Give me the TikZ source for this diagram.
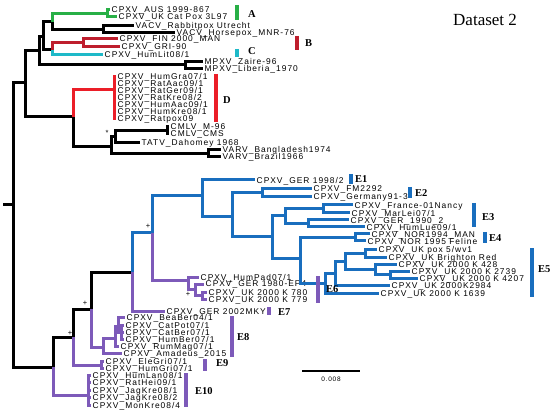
\documentclass[tikz,border=0pt]{standalone}
\usepackage{fontspec}
\newfontfamily\labfont[LetterSpace=12]{Liberation Sans}
\newfontfamily\serfont{Liberation Serif}
\definecolor{cgreen}{RGB}{40,175,70}
\definecolor{credb}{RGB}{190,30,45}
\definecolor{credd}{RGB}{235,30,40}
\definecolor{ccyan}{RGB}{30,185,200}
\definecolor{cblue}{RGB}{25,110,190}
\definecolor{cpurple}{RGB}{125,90,185}
\begin{document}
\begin{tikzpicture}[x=1pt,y=-1pt,
  br/.style={line width=3pt},
  leaf/.style={anchor=west,inner xsep=1.5pt,inner ysep=0pt,text height=6pt,text depth=0pt,font=\labfont\fontsize{8.4}{9}\selectfont},
  bar/.style={line width=3.2pt},
  clab/.style={anchor=west,inner sep=0pt,font=\serfont\bfseries\fontsize{10.5}{11}\selectfont},
  mk/.style={inner sep=0pt,font=\labfont\fontsize{7.5}{7.5}\selectfont}]
\useasboundingbox (0,0) rectangle (550,412);
% ---------------- internal nodes
\coordinate (r0) at (3,205);
\coordinate (n13) at (13,205);
\coordinate (n25) at (25,83);
\coordinate (n39) at (39,51);
\coordinate (n43) at (43,37);
\coordinate (n52a) at (52,22);
\coordinate (gA) at (107,14);
\coordinate (nV) at (103,30);
\coordinate (n52b) at (52,50);
\coordinate (rB) at (83,43);
\coordinate (nM) at (185,65);
\coordinate (n73) at (73,117);
\coordinate (nD) at (114,90);
\coordinate (nCTV) at (111,147);
\coordinate (nCT) at (115,137);
\coordinate (nCM) at (167,131);
\coordinate (nVA) at (208,154);
\coordinate (n53) at (53,367);
\coordinate (n73b) at (73,337);
\coordinate (n91) at (91,309);
\coordinate (n132) at (132,272);
\coordinate (n152) at (152,233);
\coordinate (nB202) at (202,196);
\coordinate (nB232) at (232,217);
\coordinate (nFM) at (262,193);
\coordinate (nB272) at (272,237);
\coordinate (nE3) at (285,216);
\coordinate (nFr) at (323,209);
\coordinate (nGH) at (308,224);
\coordinate (nB300) at (300,258);
\coordinate (nE4) at (355,238);
\coordinate (nE5) at (325,283);
\coordinate (nEb) at (335,273);
\coordinate (nEa) at (345,261);
\coordinate (nPox) at (365,253);
\coordinate (n428) at (375,269);
\coordinate (n27) at (390,274);
\coordinate (nE6) at (188,280);
\coordinate (nE6b) at (195,289);
\coordinate (nE6c) at (202,295);
\coordinate (nE8a) at (103,347);
\coordinate (nE8b) at (115,338);
\coordinate (nE8c) at (118,326);
\coordinate (nE8d) at (121,332);
\coordinate (nE9) at (101,365);
\coordinate (nE10) at (88,395);
% ---------------- leaves
\node[leaf] (AUS) at (110,10) {CPXV\_AUS 1999-867};
\node[leaf] (UKC) at (117,17) {CPXV\_UK Cat Pox 3L97};
\node[leaf] (Rab) at (134,26) {VACV\_Rabbitpox Utrecht};
\node[leaf] (Hor) at (175,33) {VACV\_Horsepox\_MNR-76};
\node[leaf] (FIN) at (118,39) {CPXV\_FIN 2000\_MAN};
\node[leaf] (GRI) at (120,47) {CPXV\_GRI-90};
\node[leaf] (HLi) at (103,55) {CPXV\_HumLit08/1};
\node[leaf] (Zai) at (203,62) {MPXV\_Zaire-96};
\node[leaf] (Lib) at (203,69) {MPXV\_Liberia\_1970};
\node[leaf] (D1) at (116,77) {CPXV\_HumGra07/1};
\node[leaf] (D2) at (116,84) {CPXV\_RatAac09/1};
\node[leaf] (D3) at (116,91) {CPXV\_RatGer09/1};
\node[leaf] (D4) at (116,98) {CPXV\_RatKre08/2};
\node[leaf] (D5) at (116,105) {CPXV\_HumAac09/1};
\node[leaf] (D6) at (116,112) {CPXV\_HumKre08/1};
\node[leaf] (D7) at (116,119) {CPXV\_Ratpox09};
\node[leaf] (CM1) at (169,127) {CMLV\_M-96};
\node[leaf] (CM2) at (169,134) {CMLV\_CMS};
\node[leaf] (TAT) at (140,143) {TATV\_Dahomey 1968};
\node[leaf] (VB1) at (221,150) {VARV\_Bangladesh1974};
\node[leaf] (VB2) at (221,157) {VARV\_Brazil1966};
\node[leaf] (G98) at (255,180) {CPXV\_GER 1998/2};
\node[leaf] (FM) at (312,189) {CPXV\_FM2292};
\node[leaf] (G91) at (312,197) {CPXV\_Germany91-3};
\node[leaf] (Fra) at (353,205) {CPXV\_France-01Nancy};
\node[leaf] (Mar) at (350,213) {CPXV\_MarLei07/1};
\node[leaf] (G90) at (349,220) {CPXV\_GER\_1990\_2};
\node[leaf] (HLu) at (365,227) {CPXV\_HumLue09/1};
\node[leaf] (N94) at (370,234) {CPXV\_NOR1994\_MAN};
\node[leaf] (N95) at (366,241) {CPXV\_NOR 1995 Feline};
\node[leaf] (Pox) at (377,249) {CPXV\_UK pox 5/wv1};
\node[leaf] (Bri) at (387,257) {CPXV\_UK Brighton Red};
\node[leaf] (K428) at (397,264) {CPXV\_UK 2000 K 428};
\node[leaf] (K2739) at (410,271) {CPXV\_UK 2000 K 2739};
\node[leaf] (K4207) at (418,278) {CPXV\_UK 2000 K 4207};
\node[leaf] (K2984) at (390,285) {CPXV\_UK 2000K2984};
\node[leaf] (K1639) at (379,293) {CPXV\_UK 2000 K 1639};
\node[leaf] (HPa) at (199,277) {CPXV\_HumPad07/1};
\node[leaf] (G80) at (204,284) {CPXV\_GER 1980-EP4};
\node[leaf] (K780) at (207,292) {CPXV\_UK 2000 K 780};
\node[leaf] (K779) at (207,299) {CPXV\_UK 2000 K 779};
\node[leaf] (G02) at (165,311) {CPXV\_GER 2002MKY};
\node[leaf] (Bea) at (125,317) {CPXV\_BeaBer04/1};
\node[leaf] (CPo) at (124,325) {CPXV\_CatPot07/1};
\node[leaf] (CBe) at (124,332) {CPXV\_CatBer07/1};
\node[leaf] (HBe) at (124,339) {CPXV\_HumBer07/1};
\node[leaf] (Rum) at (119,346) {CPXV\_RumMag07/1};
\node[leaf] (Ama) at (122,353) {CPXV\_Amadeus\_2015};
\node[leaf] (Ele) at (104,361) {CPXV\_EleGri07/1};
\node[leaf] (HGr) at (104,368) {CPXV\_HumGri07/1};
\node[leaf] (T1) at (91,375) {CPXV\_HumLan08/1};
\node[leaf] (T2) at (91,382) {CPXV\_RatHei09/1};
\node[leaf] (T3) at (91,390) {CPXV\_JagKre08/1};
\node[leaf] (T4) at (91,397) {CPXV\_JagKre08/2};
\node[leaf] (T5) at (91,405) {CPXV\_MonKre08/4};
% ---------------- black branches
\begin{scope}[br,black]
\draw (r0) -- (n13);
\draw (n13) |- (n25); \draw (n13) |- (n53);
\draw (n25) |- (n39); \draw (n25) |- (n73);
\draw (n39) |- (n43); \draw (n39) |- (nM);
\draw (n43) |- (n52a); \draw (n43) |- (n52b);
\draw (n52a) |- (nV);
\draw (nV) |- (Rab.west); \draw (nV) |- (Hor.west);
\draw (nM) |- (Zai.west); \draw (nM) |- (Lib.west);
\draw (n73) |- (nCTV);
\draw (nCTV) |- (nCT); \draw (nCTV) |- (nVA);
\draw (nCT) |- (nCM); \draw (nCT) |- (TAT.west);
\draw (nCM) |- (CM1.west); \draw (nCM) |- (CM2.west);
\draw (nVA) |- (VB1.west); \draw (nVA) |- (VB2.west);
\draw (n53) |- (n73b);
\draw (n73b) |- (n91);
\draw (n91) |- (n132);
\end{scope}
% green
\begin{scope}[br,cgreen]
\draw (n52a) |- (gA);
\draw (gA) |- (AUS.west); \draw (gA) |- (UKC.west);
\end{scope}
% red B
\begin{scope}[br,credb]
\draw (n52b) |- (rB);
\draw (rB) |- (FIN.west); \draw (rB) |- (GRI.west);
\end{scope}
% cyan
\draw[br,ccyan] (n52b) |- (HLi.west);
% red D
\begin{scope}[br,credd]
\draw (n73) |- (nD);
\foreach \l in {D1,D2,D3,D4,D5,D6,D7} \draw (nD) |- (\l.west);
\end{scope}
% blue
\begin{scope}[br,cblue]
\draw (n132) |- (n152);
\draw (n152) |- (nB202);
\draw (nB202) |- (G98.west); \draw (nB202) |- (nB232);
\draw (nB232) |- (nFM); \draw (nB232) |- (nB272);
\draw (nFM) |- (FM.west); \draw (nFM) |- (G91.west);
\draw (nB272) |- (nE3); \draw (nB272) |- (nB300);
\draw (nE3) |- (nFr); \draw (nE3) |- (nGH);
\draw (nFr) |- (Fra.west); \draw (nFr) |- (Mar.west);
\draw (nGH) |- (G90.west); \draw (nGH) |- (HLu.west);
\draw (nB300) |- (nE4); \draw (nB300) |- (nE5);
\draw (nE4) |- (N94.west); \draw (nE4) |- (N95.west);
\draw (nE5) |- (nEb); \draw (nE5) |- (K1639.west);
\draw (nEb) |- (nEa); \draw (nEb) |- (K2984.west);
\draw (nEa) |- (nPox); \draw (nEa) |- (n428);
\draw (nPox) |- (Pox.west); \draw (nPox) |- (Bri.west);
\draw (n428) |- (K428.west); \draw (n428) |- (n27);
\draw (n27) |- (K2739.west); \draw (n27) |- (K4207.west);
\end{scope}
% purple
\begin{scope}[br,cpurple]
\draw (n132) |- (G02.west);
\draw (n152) |- (nE6);
\draw (nE6) |- (HPa.west); \draw (nE6) |- (nE6b);
\draw (nE6b) |- (G80.west); \draw (nE6b) |- (nE6c);
\draw (nE6c) |- (K780.west); \draw (nE6c) |- (K779.west);
\draw (n91) |- (nE8a);
\draw (nE8a) |- (nE8b); \draw (nE8a) |- (Ama.west);
\draw (nE8b) |- (nE8c); \draw (nE8b) |- (Rum.west);
\draw (nE8c) |- (Bea.west); \draw (nE8c) |- (nE8d);
\draw (nE8d) |- (CPo.west); \draw (nE8d) |- (CBe.west); \draw (nE8d) |- (HBe.west);
\draw (n73b) |- (nE9);
\draw (nE9) |- (Ele.west); \draw (nE9) |- (HGr.west);
\draw (n53) |- (nE10);
\foreach \l in {T1,T2,T3,T4,T5} \draw (nE10) |- (\l.west);
\end{scope}
% ---------------- clade bars
\coordinate (bA1) at (237,5);   \coordinate (bA2) at (237,20);
\coordinate (bB1) at (297,36);  \coordinate (bB2) at (297,50);
\coordinate (bC1) at (237,49);  \coordinate (bC2) at (237,57);
\coordinate (bD1) at (216,74);  \coordinate (bD2) at (216,122);
\coordinate (bE11) at (351,174); \coordinate (bE12) at (351,184);
\coordinate (bE21) at (410,187); \coordinate (bE22) at (410,198);
\coordinate (bE31) at (474,203); \coordinate (bE32) at (474,227);
\coordinate (bE41) at (485,232); \coordinate (bE42) at (485,243);
\coordinate (bE51) at (532,248); \coordinate (bE52) at (532,297);
\coordinate (bE61) at (318,276); \coordinate (bE62) at (318,303);
\coordinate (bE71) at (269,307); \coordinate (bE72) at (269,315);
\coordinate (bE81) at (232,316); \coordinate (bE82) at (232,357);
\coordinate (bE91) at (205,359); \coordinate (bE92) at (205,371);
\coordinate (bE101) at (186,373); \coordinate (bE102) at (186,407);
\draw[bar,cgreen] (bA1) -- (bA2);
\draw[bar,credb] (bB1) -- (bB2);
\draw[bar,ccyan] (bC1) -- (bC2);
\draw[bar,credd] (bD1) -- (bD2);
\foreach \b in {E1,E2,E3,E4,E5} \draw[bar,cblue] (b\b1) -- (b\b2);
\foreach \b in {E6,E7,E8,E9,E10} \draw[bar,cpurple] (b\b1) -- (b\b2);
\node[clab] (lA) at (248,14) {A};
\node[clab] (lB) at (305,43) {B};
\node[clab] (lC) at (248,51) {C};
\node[clab] (lD) at (223,100) {D};
\node[clab] (lE1) at (355,179) {E1};
\node[clab] (lE2) at (415,193) {E2};
\node[clab] (lE3) at (482,217) {E3};
\node[clab] (lE4) at (489,238) {E4};
\node[clab] (lE5) at (538,269) {E5};
\node[clab] (lE6) at (326,289) {E6};
\node[clab] (lE7) at (278,312) {E7};
\node[clab] (lE8) at (237,337) {E8};
\node[clab] (lE9) at (216,363) {E9};
\node[clab] (lE10) at (195,391) {E10};
% ---------------- marks
\node[mk] (m1) at (107,133) {*};
\node[mk] (m2) at (148,226) {+};
\node[mk] (m3) at (188,294) {+};
\node[mk] (m4) at (85,303) {+};
\node[mk] (m5) at (70,333) {+};
% ---------------- scale bar and title
\coordinate (s1) at (302,371);
\coordinate (s2) at (360,371);
\draw[line width=1.2pt] (s1) -- (s2);
\node[inner sep=0pt,font=\labfont\fontsize{6.5}{7}\selectfont] (sl) at (331,379) {0.008};
\node[anchor=west,inner sep=0pt,font=\serfont\fontsize{17}{18}\selectfont] (title) at (453,20) {Dataset 2};
\end{tikzpicture}
\end{document}
